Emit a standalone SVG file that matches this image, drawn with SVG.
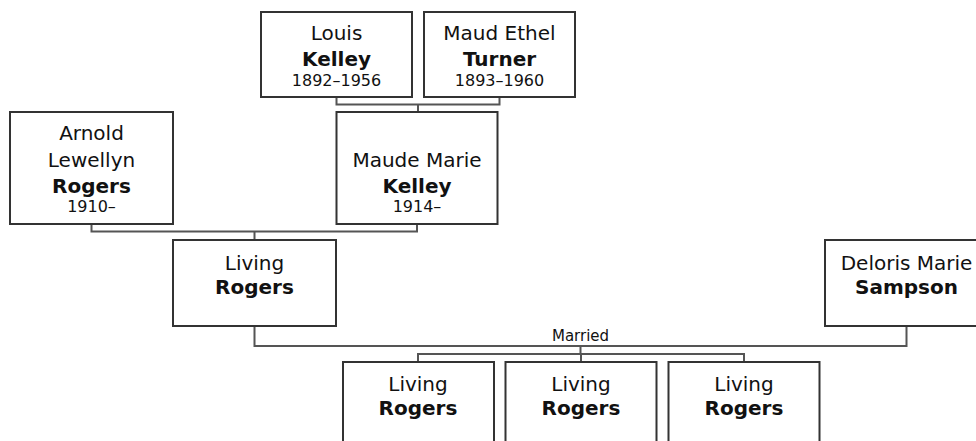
<svg xmlns="http://www.w3.org/2000/svg" width="976" height="441" viewBox="0 0 976 441">
<style>
.box{fill:#fff;stroke:#333;stroke-width:2}
.con{fill:none;stroke:#555;stroke-width:2}
text{font-family:"DejaVu Sans","Verdana",sans-serif;fill:#111;text-anchor:middle}
.n{font-size:20px}
.b{font-size:20px;font-weight:bold}
.d{font-size:16px}
.m{font-size:15px}
</style>
<rect width="976" height="441" fill="#fff"/>
<g id="connectors">
<path class="con" d="M336.5 97V104.5H499.5V97M418 104.5V112"/>
<path class="con" d="M91.5 224V231.5H417V224M254.5 231.5V240"/>
<path class="con" d="M254.5 326V346H906.5V326"/>
<text class="m" x="580.5" y="341">Married</text>
<path class="con" d="M580.5 346V354M418 362V354H744V362M581 354V362"/>
</g>
<g id="louis">
<rect class="box" x="261" y="12" width="151" height="85"/>
<text class="n" x="336.5" y="40">Louis</text>
<text class="b" x="336.5" y="66">Kelley</text>
<text class="d" x="336.5" y="86">1892–1956</text>
</g>
<g id="maud">
<rect class="box" x="424" y="12" width="151" height="85"/>
<text class="n" x="499.5" y="40">Maud Ethel</text>
<text class="b" x="499.5" y="66">Turner</text>
<text class="d" x="499.5" y="86">1893–1960</text>
</g>
<g id="arnold">
<rect class="box" x="10" y="112" width="163" height="112"/>
<text class="n" x="91.5" y="140">Arnold</text>
<text class="n" x="91.5" y="166.5">Lewellyn</text>
<text class="b" x="91.5" y="193">Rogers</text>
<text class="d" x="91.5" y="212">1910–</text>
</g>
<g id="maude">
<rect class="box" x="336.5" y="112" width="161" height="112"/>
<text class="n" x="417" y="166.5">Maude Marie</text>
<text class="b" x="417" y="193">Kelley</text>
<text class="d" x="417" y="212">1914–</text>
</g>
<g id="living-parent">
<rect class="box" x="173" y="240" width="163" height="86"/>
<text class="n" x="254.5" y="270">Living</text>
<text class="b" x="254.5" y="294">Rogers</text>
</g>
<g id="deloris">
<rect class="box" x="825" y="240" width="163" height="86"/>
<text class="n" x="906.5" y="270">Deloris Marie</text>
<text class="b" x="906.5" y="294">Sampson</text>
</g>
<g id="child1">
<rect class="box" x="343" y="362" width="151" height="85"/>
<text class="n" x="418" y="391">Living</text>
<text class="b" x="418" y="415">Rogers</text>
</g>
<g id="child2">
<rect class="box" x="505.5" y="362" width="151" height="85"/>
<text class="n" x="581" y="391">Living</text>
<text class="b" x="581" y="415">Rogers</text>
</g>
<g id="child3">
<rect class="box" x="668.5" y="362" width="151" height="85"/>
<text class="n" x="744" y="391">Living</text>
<text class="b" x="744" y="415">Rogers</text>
</g>
</svg>
